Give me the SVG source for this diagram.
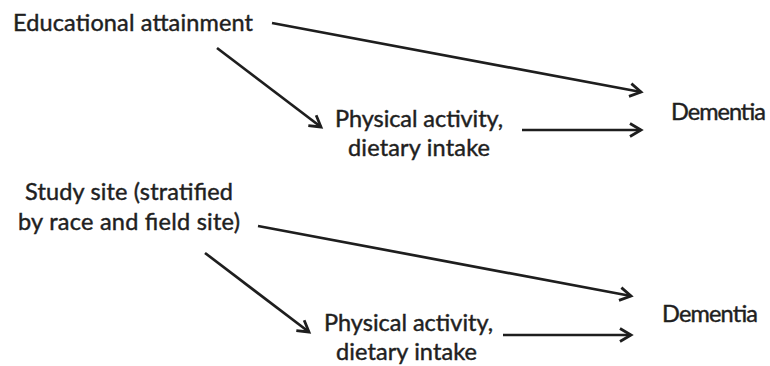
<svg xmlns="http://www.w3.org/2000/svg" width="770" height="366" viewBox="0 0 770 366">
<defs>
<style>
.t{font-family:Lato,"Open Sans","Liberation Sans",sans-serif;font-size:23.5px;fill:#1f1f1f;stroke:#1f1f1f;stroke-width:0.45px;}
.c{stroke:#1e1e1e;stroke-width:2.7;fill:none;marker-end:url(#ah);}
</style>
<marker id="ah" markerUnits="userSpaceOnUse" markerWidth="20" markerHeight="20" viewBox="-14 -10 20 20" refX="0" refY="0" orient="auto">
<path d="M-11,-6.5 L0,0 L-11,6.5" fill="none" stroke="#1e1e1e" stroke-width="2.8" stroke-linejoin="miter"/>
</marker>
</defs>
<rect width="770" height="366" fill="#fff"/>
<g id="edu"><text class="t" x="13" y="31" textLength="240">Educational attainment</text></g>
<g id="pa1"><text class="t" x="335" y="127" textLength="168">Physical activity,</text><text class="t" x="348" y="156" textLength="142">dietary intake</text></g>
<g id="dem1"><text class="t" x="671" y="120" textLength="95">Dementia</text></g>
<g id="site"><text class="t" x="25" y="200" textLength="208">Study site (stratified</text><text class="t" x="18" y="230" textLength="222">by race and field site)</text></g>
<g id="pa2"><text class="t" x="324" y="331" textLength="169">Physical activity,</text><text class="t" x="336" y="360" textLength="141">dietary intake</text></g>
<g id="dem2"><text class="t" x="662" y="322" textLength="96">Dementia</text></g>
<g id="connectors">
<line class="c" x1="272" y1="23" x2="641" y2="92"/>
<line class="c" x1="217" y1="48" x2="321" y2="127"/>
<line class="c" x1="522" y1="130" x2="641" y2="130"/>
<line class="c" x1="258" y1="226" x2="631" y2="296"/>
<line class="c" x1="205" y1="253" x2="309" y2="332"/>
<line class="c" x1="503" y1="335" x2="631" y2="335"/>
</g>
</svg>
